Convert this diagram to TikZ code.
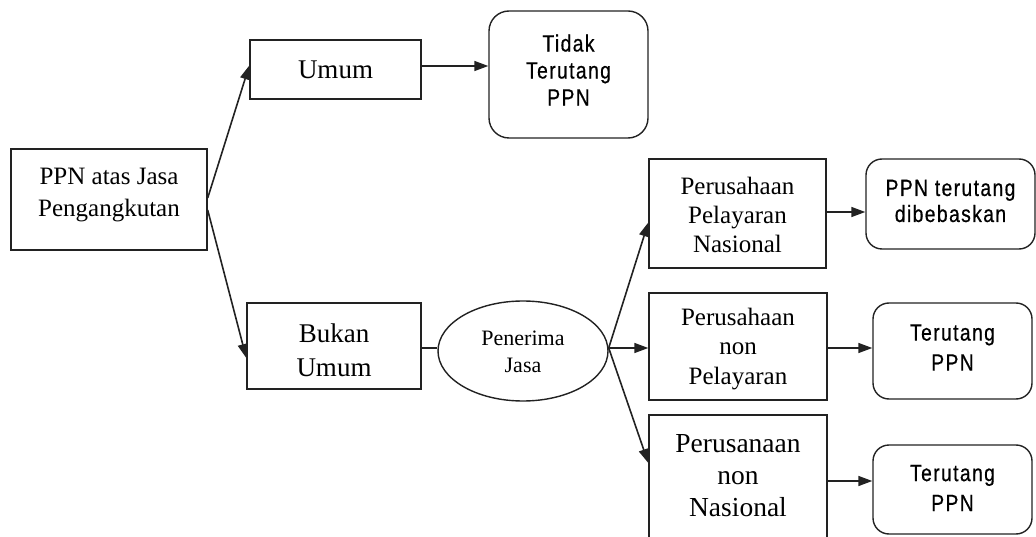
\documentclass[tikz,border=0pt]{standalone}
\usepackage{fontspec}
\setmainfont{Liberation Serif}
\newfontfamily\narrowsans[FakeStretch=0.82,LetterSpace=6,FakeBold=0.6]{Liberation Sans}
\usetikzlibrary{arrows.meta,shapes.geometric}
\definecolor{linec}{HTML}{222222}
\begin{document}
\begin{tikzpicture}[x=1pt,y=-1pt,
  box/.style={draw=linec, line width=1.4pt, inner sep=0pt},
  rbox/.style={box, rounded corners=16pt},
  serif/.style n args={2}{align=center, inner sep=0pt, text=black, font=\fontsize{#1}{#2}\selectfont},
  sanstxt/.style n args={2}{align=center, inner sep=0pt, text=black, font=\narrowsans\fontsize{#1}{#2}\selectfont},
  arr/.style={draw=linec, line width=1.6pt, -{Triangle[length=14pt,width=10pt]}},
  link/.style={draw=linec, line width=1.4pt}]
\useasboundingbox (0,0) rectangle (1036,537);

% left column
\node[box, minimum width=196pt, minimum height=101pt] (ppn) at (109,199.5) {};
\node[serif={25}{32}] (ppnt) at (109,195) {PPN atas Jasa\\Pengangkutan};

\node[box, minimum width=171pt, minimum height=59pt] (umum) at (335.5,69.5) {};
\node[serif={27}{32}] (umumt) at (335.5,70) {Umum};

\node[rbox, rounded corners=20pt, minimum width=159pt, minimum height=127pt] (tidak) at (568.5,74.5) {};
\node[sanstxt={23.5}{27}] (tidakt) at (568.5,70) {Tidak\\Terutang\\PPN};

\node[box, minimum width=174pt, minimum height=86pt] (bukan) at (334,346) {};
\node[serif={27}{34}] (bukant) at (334,350) {Bukan\\Umum};

\node[ellipse, draw=linec, line width=1.4pt, minimum width=170pt, minimum height=100pt, inner sep=0pt] (pen) at (523,351) {};
\node[serif={22}{27}] (pent) at (523,352) {Penerima\\Jasa};

% recipients
\node[box, minimum width=177pt, minimum height=109pt] (pelnas) at (737.5,213.5) {};
\node[serif={25}{29}] (pelnast) at (737.5,215) {Perusahaan\\Pelayaran\\Nasional};

\node[box, minimum width=178pt, minimum height=107pt] (nonpel) at (738,346.5) {};
\node[serif={25}{29.5}] (nonpelt) at (738,349) {Perusahaan\\non\\Pelayaran};

\node[box, minimum width=178pt, minimum height=132pt] (nonnas) at (738,481) {};
\node[serif={27.5}{32}] (nonnast) at (738,475.5) {Perusanaan\\non\\Nasional};

% outcomes
\node[rbox, minimum width=169pt, minimum height=90pt] (bebas) at (950.5,204) {};
\node[sanstxt={23.5}{26}] (bebast) at (950.5,201) {PPN terutang\\dibebaskan};

\node[rbox, minimum width=159pt, minimum height=96pt] (tp1) at (952.5,351) {};
\node[sanstxt={23.5}{30}] (tp1t) at (952.5,347.5) {Terutang\\PPN};

\node[rbox, minimum width=159pt, minimum height=89pt] (tp2) at (952.5,489.5) {};
\node[sanstxt={23.5}{30}] (tp2t) at (952.5,488) {Terutang\\PPN};

% connectors
\draw[arr] ([yshift=1.5pt]ppn.east) -- ([yshift=4pt]umum.west);
\draw[arr] ([yshift=-10.5pt]ppn.east) -- ([yshift=-12pt]bukan.west);
\draw[arr] ([yshift=3.5pt]umum.east) -- ([yshift=8.5pt]tidak.west);
\draw[link] ([yshift=-2pt]bukan.east) -- ([yshift=3pt]pen.west);
\draw[arr] ([yshift=3pt]pen.east) -- ([yshift=-9pt]pelnas.west);
\draw[arr] ([yshift=3pt]pen.east) -- ([yshift=-1.5pt]nonpel.west);
\draw[arr] ([yshift=3pt]pen.east) -- ([yshift=18pt]nonnas.west);
\draw[arr] ([yshift=1.5pt]pelnas.east) -- ([yshift=-8pt]bebas.west);
\draw[arr] ([yshift=-1.5pt]nonpel.east) -- ([yshift=3pt]tp1.west);
\draw[arr] (nonnas.east) -- ([yshift=8.5pt]tp2.west);
\end{tikzpicture}
\end{document}
